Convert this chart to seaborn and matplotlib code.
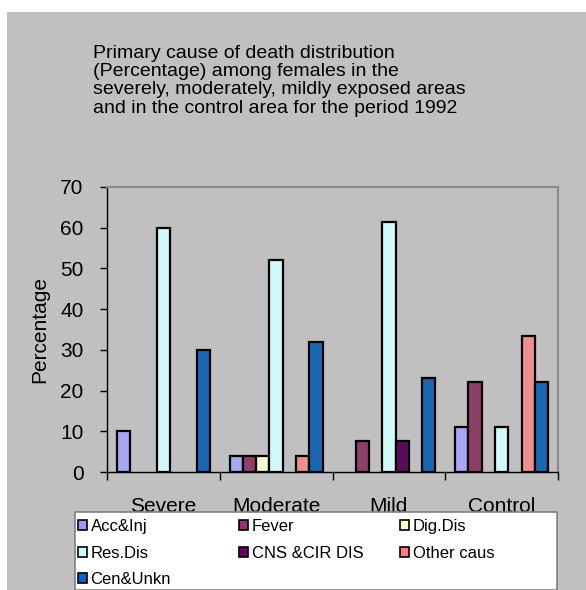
import numpy as np
import pandas as pd
import matplotlib
matplotlib.use("Agg")
import matplotlib.pyplot as plt
from matplotlib.patches import Patch, Rectangle
from matplotlib.ticker import MultipleLocator, FixedLocator
import seaborn as sns

# data (NaN = no bar drawn)
areas = ["Severe", "Moderate", "Mild", "Control"]
causes = ["Acc&Inj", "Fever", "Dig.Dis", "Res.Dis", "CNS &CIR DIS", "Other caus", "Cen&Unkn"]
acc_inj = [10.0, 4.0, np.nan, 11.1]
fever = [np.nan, 4.0, 7.6, 22.2]
dig_dis = [np.nan, 4.0, np.nan, np.nan]
res_dis = [60.0, 52.0, 61.3, 11.1]
cns_cir = [np.nan, np.nan, 7.6, np.nan]
other = [np.nan, 4.0, np.nan, 33.3]
cen_unkn = [30.0, 32.0, 23.0, 22.2]
colors = ["#9999FF", "#993366", "#FFFFCC", "#CCFFFF", "#660066", "#FF8080", "#0066CC"]

series = [acc_inj, fever, dig_dis, res_dis, cns_cir, other, cen_unkn]
rows = []
for cause, vals in zip(causes, series):
    for area, v in zip(areas, vals):
        rows.append({"area": area, "cause": cause, "pct": v})
df = pd.DataFrame(rows)

sns.set_style("white")
plt.rcParams["font.family"] = ["Liberation Sans", "DejaVu Sans"]
plt.rcParams["text.color"] = "black"
plt.rcParams["axes.labelcolor"] = "black"
plt.rcParams["xtick.color"] = "black"
plt.rcParams["ytick.color"] = "black"

W, H = 586, 590
BG = "#C0C0C0"
fig = plt.figure(figsize=(W / 100, H / 100), dpi=100)
fig.patch.set_facecolor("white")
fig.add_artist(Rectangle((7 / W, 0), 1, 1 - 12 / H, transform=fig.transFigure,
                         facecolor=BG, edgecolor="none", zorder=-10))

ax = fig.add_axes([107 / W, 1 - 472 / H, 451 / W, 285 / H])
ax.set_facecolor(BG)

sns.barplot(data=df, x="area", y="pct", hue="cause", order=areas, hue_order=causes,
            palette=colors, width=0.826, errorbar=None, edgecolor="black",
            linewidth=1.6, ax=ax)
ax.get_legend().remove()

ax.set_xlim(-0.5, 3.5)
ax.set_ylim(0, 70)
ax.yaxis.set_major_locator(MultipleLocator(10))
ax.tick_params(axis="y", which="major", direction="out", length=5, width=1,
               color="black", labelsize=15, pad=12, left=True)
ax.tick_params(axis="x", which="major", length=0, labelsize=15, pad=18)
ax.xaxis.set_minor_locator(FixedLocator([-0.5, 0.5, 1.5, 2.5, 3.5]))
ax.tick_params(axis="x", which="minor", direction="out", length=6, width=1,
               color="black", bottom=True)
ax.set_xlabel("")
ax.set_ylabel("Percentage", fontsize=15, labelpad=8)

for side in ["left", "bottom"]:
    ax.spines[side].set_color("black")
    ax.spines[side].set_linewidth(1)
for side in ["top", "right"]:
    ax.spines[side].set_color("#8a8a8a")
    ax.spines[side].set_linewidth(1.5)

fig.text(93 / W, 1 - 45 / H,
         "Primary cause of death distribution\n(Percentage) among females in the\n"
         "severely, moderately, mildly exposed areas\nand in the control area for the period 1992",
         ha="left", va="top", fontsize=14, linespacing=1.09)

# legend: white box with three columns placed at fixed x positions
fig.add_artist(Rectangle((75 / W, 0), 482 / W, 78 / H, transform=fig.transFigure,
                         facecolor="white", edgecolor="#808080", linewidth=1.2, zorder=9))
columns = [[0, 3, 6], [1, 4], [2, 5]]
col_x = [78, 239, 400]
for idx, x0 in zip(columns, col_x):
    handles = [Patch(facecolor=colors[i], edgecolor="black", linewidth=1.2, label=causes[i])
               for i in idx]
    leg = fig.legend(handles=handles, loc="upper left",
                     bbox_to_anchor=(x0 / W, 1 - 519 / H), fontsize=12, frameon=False,
                     handlelength=0.55, handleheight=0.55, handletextpad=0.2,
                     borderaxespad=0, borderpad=0, labelspacing=0.7)
    leg.set_zorder(10)

fig.savefig("out.png", dpi=100, facecolor=fig.get_facecolor())
